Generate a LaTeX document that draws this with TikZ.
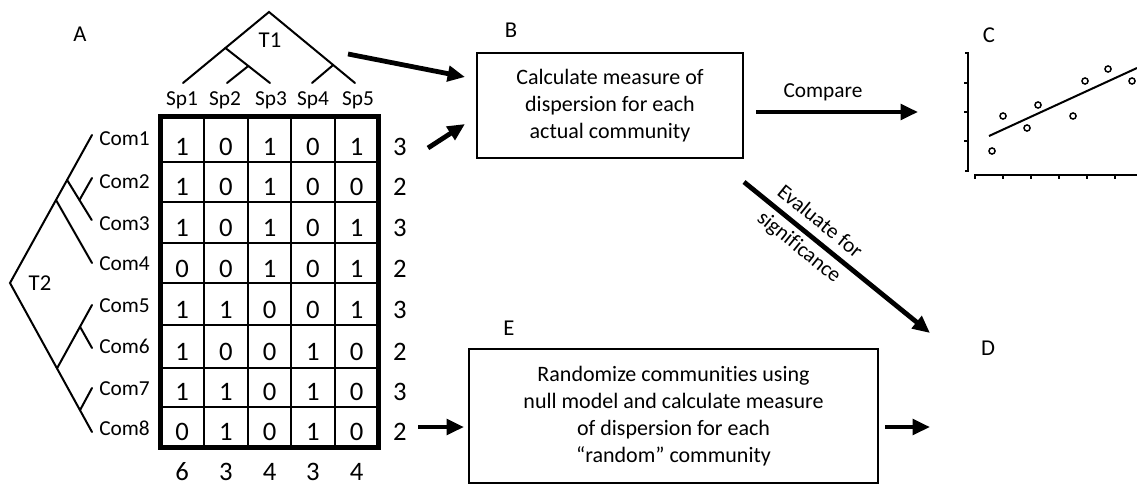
\documentclass[tikz,border=0pt]{standalone}
\usepackage{fontspec}
\setmainfont{Carlito}[Ligatures=NoCommon]
\usetikzlibrary{arrows.meta}

\tikzset{
  lbl/.style={font=\fontsize{17}{20}\selectfont, anchor=base, inner sep=0pt},
  txt/.style={font=\fontsize{16}{19}\selectfont, anchor=base, inner sep=0pt},
  cell/.style={font=\fontsize{20}{24}\selectfont, anchor=base, inner sep=0pt},
  tree/.style={line width=1.5pt, line cap=round},
  flow/.style={line width=3.6pt, -{Triangle[length=13pt,width=11.5pt]}},
  procbox/.style={draw, line width=2pt, align=center, inner sep=0pt,
    font=\fontsize{16.5}{20.25}\selectfont},
  axis/.style={line width=2.2pt},
  dot/.style={draw, circle, line width=1.1pt, minimum size=4.6pt, inner sep=0pt},
}

\begin{document}
\begin{tikzpicture}[x=0.75pt,y=-0.75pt]
\useasboundingbox (0,0) rectangle (1137,485);

% panel letters
\node[lbl] (labA) at (80,42) {A};
\node[lbl] (labB) at (511,38) {B};
\node[lbl] (labC) at (989,43) {C};
\node[lbl] (labD) at (988,355) {D};
\node[lbl] (labE) at (509,335) {E};

% species tree T1
\coordinate (r1) at (269,12);
\coordinate (s1) at (183,83);
\coordinate (s2) at (227,83);
\coordinate (s3) at (270,83);
\coordinate (s4) at (312,83);
\coordinate (s5) at (355,83);
\coordinate (n1) at (225.4,48);
\coordinate (n2) at (248.3,66);
\coordinate (n3) at (333.2,65);
\draw[tree] (s1) -- (r1) -- (s5);
\draw[tree] (n1) -- (s3);
\draw[tree] (n2) -- (s2);
\draw[tree] (n3) -- (s4);
\node[lbl] (labT1) at (270,48) {T1};

% species names
\foreach \x [count=\i] in {182,225,271,313,358}
  \node[txt] (sp\i) at (\x,105) {Sp\i};

% community tree T2
\coordinate (r2) at (10,283);
\coordinate (c1) at (92,135);
\coordinate (c2) at (92,178);
\coordinate (c3) at (91.7,220);
\coordinate (c4) at (92,263);
\coordinate (c5) at (92,305);
\coordinate (c6) at (92,348);
\coordinate (c7) at (92,388);
\coordinate (c8) at (92,432);
\coordinate (u1) at (56,200);
\coordinate (u2) at (67.1,180);
\coordinate (u3) at (79.5,200);
\coordinate (l1) at (57,368.4);
\coordinate (l2) at (80,326.7);
\coordinate (l3) at (80,410.2);
\draw[tree] (c1) -- (r2) -- (c8);
\draw[tree] (u1) -- (c4);
\draw[tree] (u2) -- (c3);
\draw[tree] (u3) -- (c2);
\draw[tree] (l1) -- (c5);
\draw[tree] (l2) -- (c6);
\draw[tree] (l3) -- (c7);
\node[lbl] (labT2) at (40,290) {T2};

% community names
\foreach \y [count=\i] in {145,188,230,270,312,353,395,435}
  \node[txt, anchor=base west] (com\i) at (99,\y) {Com\i};

% presence/absence matrix
\foreach \x in {204,248.3,291,335}
  \draw[line width=1.5pt] (\x,116.5) -- (\x,447.5);
\foreach \y in {162,202,243,283,325,368,407}
  \draw[line width=1.5pt] (160.5,\y) -- (378.5,\y);
\draw[line width=3.5pt] (160.5,116.5) rectangle (378.5,447.5);

\foreach \row/\y/\s [count=\r] in {
    {1,0,1,0,1}/155/3, {1,0,1,0,0}/195/2, {1,0,1,0,1}/236/3,
    {0,0,1,0,1}/277/2, {1,1,0,0,1}/318/3, {1,0,0,1,0}/360/2,
    {1,1,0,1,0}/400/3, {0,1,0,1,0}/440/2} {
  \foreach \v [count=\c] in \row {
    \pgfmathsetmacro{\cx}{{182.25,226,269.7,313,356.75}[\c-1]}
    \node[cell] (m-\r-\c) at (\cx,\y) {\v};
  }
  \node[cell] (rs\r) at (400,\y) {\s};
}
\foreach \x/\s [count=\c] in {182.25/6,226/3,269.7/4,313/3,356.75/4}
  \node[cell] (cs\c) at (\x,480) {\s};

% process boxes
\node[procbox, minimum width=199.5pt, minimum height=78.75pt] (B) at (610,105.5)
  {Calculate measure of\\dispersion for each\\actual community};
\node[procbox, minimum width=306.75pt, minimum height=100.5pt] (E) at (673.5,416)
  {Randomize communities using\\null model and calculate measure\\of dispersion for each\\``random'' community};

% flow arrows
\coordinate (a1s) at (348,54);
\coordinate (a1e) at (465,77);
\coordinate (a2s) at (428,148);
\coordinate (a2e) at (465,124);
\coordinate (a3s) at (756,112);
\coordinate (a3e) at (918,112);
\coordinate (a4s) at (744,182);
\coordinate (a4e) at (930,333);
\coordinate (a5s) at (418,427);
\coordinate (a5e) at (464,427);
\coordinate (a6s) at (885,427);
\coordinate (a6e) at (930,427);
\draw[flow] (a1s) -- (a1e);
\draw[flow] (a2s) -- (a2e);
\draw[flow] (a3s) -- (a3e);
\node[txt] (cmp) at (823,98) {Compare};
\draw[flow] (a4s) -- (a4e)
  node[pos=0.35, sloped, align=center, inner sep=0pt,
       font=\fontsize{16}{24.5}\selectfont] (ev) {Evaluate for\\significance};
\draw[flow] (a5s) -- (a5e);
\draw[flow] (a6s) -- (a6e);

% scatter plot
\draw[axis] (965,53) -- (968,53) -- (968,171) -- (965,171);
\foreach \y in {83,112,141}
  \draw[axis] (964,\y) -- (968,\y);
\draw[axis] (974,175) -- (1137,175);
\foreach \x in {975,1003,1031,1059,1087,1115}
  \draw[axis] (\x,175) -- (\x,179);
\draw[line width=1.5pt] (989,136) -- (1137,68);
\foreach \x/\y [count=\i] in {992/151,1003/116,1027/128,1038/105,1073/116,1085/81,1108/69,1132/81}
  \node[dot] (p\i) at (\x,\y) {};

\end{tikzpicture}
\end{document}
